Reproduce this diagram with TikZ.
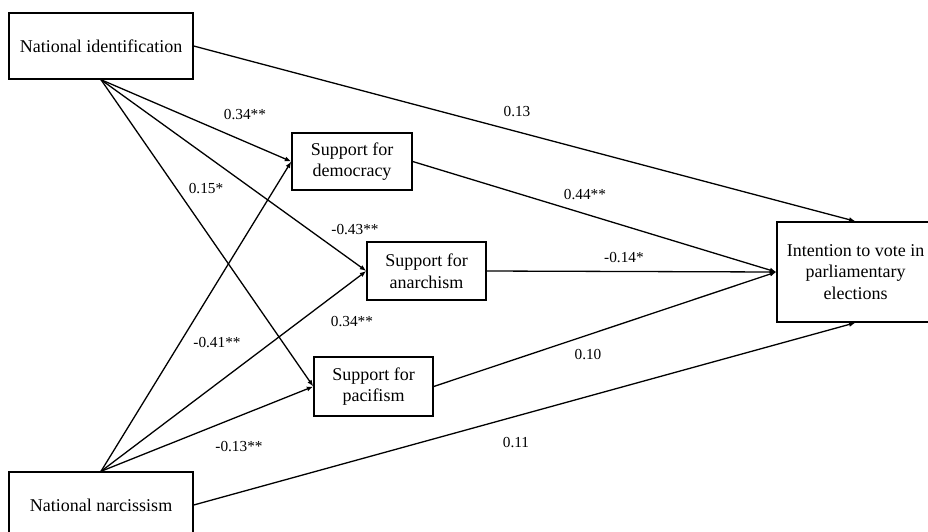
\documentclass[tikz,border=0pt]{standalone}
\usepackage{fontspec}
\setmainfont{Liberation Serif}
\usetikzlibrary{arrows.meta}

\tikzset{
  box/.style={draw, line width=1.4pt, align=center, inner sep=0pt,
    font=\fontsize{18}{21.5}\selectfont},
  link/.style={line width=1.3pt, -{Latex[length=6.5pt,width=5pt]}},
  coef/.style={inner sep=0pt, font=\fontsize{15.3}{18}\selectfont}
}

\begin{document}
\begin{tikzpicture}[x=1pt,y=-1pt]
  \useasboundingbox (0,0) rectangle (928,531);

  \node[box, minimum width=184pt, minimum height=66pt] (ni) at (101,46) {National identification};
  \node[box, minimum width=184pt, minimum height=66pt] (nn) at (101,505) {National narcissism};
  \node[box, minimum width=120pt, minimum height=57pt] (dem) at (352,161.5) {Support for\\democracy};
  \node[box, minimum width=119pt, minimum height=58pt] (ana) at (426.5,271) {Support for\\anarchism};
  \node[box, minimum width=119pt, minimum height=59pt] (pac) at (373.5,386.5) {Support for\\pacifism};
  \node[box, minimum width=157pt, minimum height=100pt] (vote) at (855.5,272) {Intention to vote in\\parliamentary\\elections};

  \draw[link] (ni.south) -- (dem.west);
  \draw[link] (ni.south) -- (ana.west);
  \draw[link] (ni.south) -- (pac.west);
  \draw[link] (nn.north) -- (dem.west);
  \draw[link] (nn.north) -- (ana.west);
  \draw[link] (nn.north) -- (pac.west);
  \draw[link] (ni.east) -- (vote.north);
  \draw[link] (dem.east) -- (vote.west);
  \draw[link] (ana.east) -- (vote.west);
  \draw[link] (pac.east) -- (vote.west);
  \draw[link] (nn.east) -- (vote.south);

  \node[coef] (ni-dem) at (245,115) {0.34**};
  \node[coef] (ni-pac) at (206,189) {0.15*};
  \node[coef] (ni-ana) at (355,230) {-0.43**};
  \node[coef] (nn-ana) at (352,322) {0.34**};
  \node[coef] (nn-dem) at (217,343) {-0.41**};
  \node[coef] (nn-pac) at (239,447) {-0.13**};
  \node[coef] (ni-vote) at (517,112) {0.13};
  \node[coef] (dem-vote) at (585,195) {0.44**};
  \node[coef] (ana-vote) at (624,258) {-0.14*};
  \node[coef] (pac-vote) at (588,355) {0.10};
  \node[coef] (nn-vote) at (516,443) {0.11};
\end{tikzpicture}
\end{document}
